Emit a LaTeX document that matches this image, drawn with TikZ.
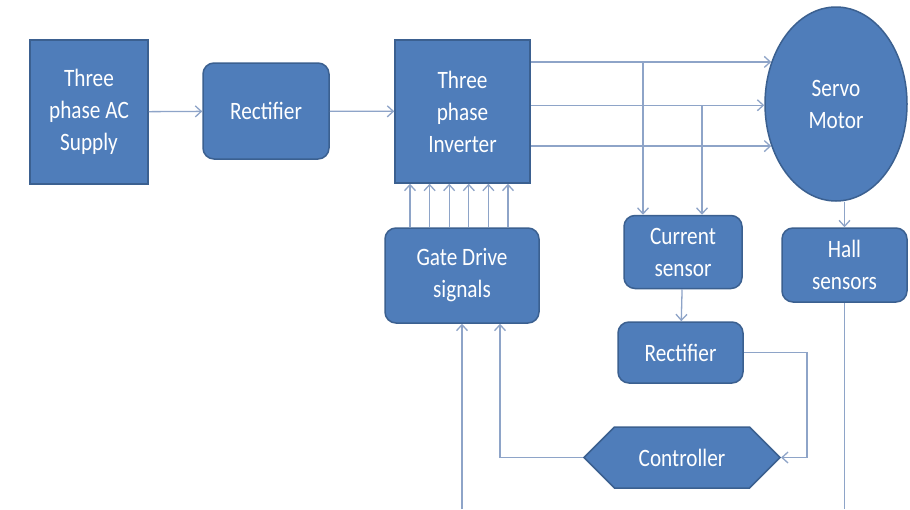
\documentclass[tikz,border=0pt]{standalone}
\usepackage{fontspec}
\setmainfont{Carlito}[FakeStretch=0.85]
\usetikzlibrary{arrows.meta,shapes.geometric,shapes.symbols}
\definecolor{boxblue}{HTML}{4F7DBA}
\definecolor{boxedge}{HTML}{3B6090}
\definecolor{wireblue}{HTML}{8EA4C8}
\tikzset{
  blk/.style={draw=boxedge,line width=1.5pt,fill=boxblue,text=white,align=center,
    inner sep=0pt,font=\fontsize{25}{32}\selectfont},
  rblk/.style={blk,rounded corners=11pt},
  wire/.style={draw=wireblue,line width=1.3pt},
  feed/.style={wire,-{Straight Barb[length=6pt,width=11pt,line width=1.3pt]}}
}

\begin{document}
\begin{tikzpicture}[x=1pt,y=-1pt]
            \useasboundingbox[fill=white] (0,0) rectangle (910,509);
            % blocks of the power path
            \node (supply) at (89,112) [blk,minimum width=118pt,minimum height=144pt]{Three\\phase AC\\Supply};
            \node (rect1) at (266,111) [rblk,minimum width=126pt,minimum height=96pt]{Rectifier};
            \node (inverter) at (462.5,111.5) [blk,minimum width=135pt,minimum height=143pt]{Three\\phase\\Inverter};
            \node (motor) at (836,104) [blk,ellipse,minimum width=142pt,minimum height=194pt]{Servo\\Motor};
            
            % sensing and control blocks
            \node (cursens) at (683,252) [rblk,minimum width=118pt,minimum height=73pt]{Current\\sensor};
            \node (hall) at (844.5,265) [rblk,minimum width=125pt,minimum height=74pt]{Hall\\sensors};
            \node (gate) at (462,275.5) [rblk,minimum width=154pt,minimum height=95pt]{Gate Drive\\signals};
            \node (rect2) at (680.5,352.5) [rblk,minimum width=125pt,minimum height=61pt]{Rectifier};
            \node (ctrl) at (682,457.5) [blk,signal,signal to=west and east,signal pointer angle=90,
              minimum width=196pt,minimum height=61pt]{Controller};
            
            % tap points and loose ends
            \coordinate (tapA) at (643,63);
            \coordinate (tapB) at (702,106);
            \coordinate (fbk) at (807,0);
            \coordinate (gateL) at (462,509);
            \coordinate (gateR) at (500,0);
            \coordinate (hallEnd) at (844.5,509);
            
            % power path
            \draw[feed] (supply) -- (rect1);
            \draw[feed] (rect1) -- (inverter);
            \draw[feed] (inverter.east |- motor.147.5) -- (motor.147.5);
            \draw[feed] (inverter.east |- motor.181.6) -- (motor.181.6);
            \draw[feed] (inverter.east |- motor.213.7) -- (motor.213.7);
            \foreach \k in {0,...,5}
              \draw[feed] ([xshift=-52pt+19.6pt*\k]gate.north) -- ([xshift=-52pt+19.6pt*\k]gate.north |- inverter.south);
            
            % current feedback
            \draw[feed] (tapA) -- (tapA |- cursens.north);
            \draw[feed] (tapB) -- (tapB |- cursens.north);
            \draw[feed] (cursens) -- (rect2);
            \draw[feed] (rect2.east) -| (fbk |- ctrl.east) -- (ctrl.east);
            \draw[feed] (ctrl.west) -| (gateR |- gate.south);
            \draw[feed] (gateL) -- (gateL |- gate.south);
            
            % hall sensing
            \draw[feed] (motor.south -| hall.north) -- (hall.north);
            \draw[wire] (hall.south) -- (hallEnd);
            \end{tikzpicture}
\end{document}
